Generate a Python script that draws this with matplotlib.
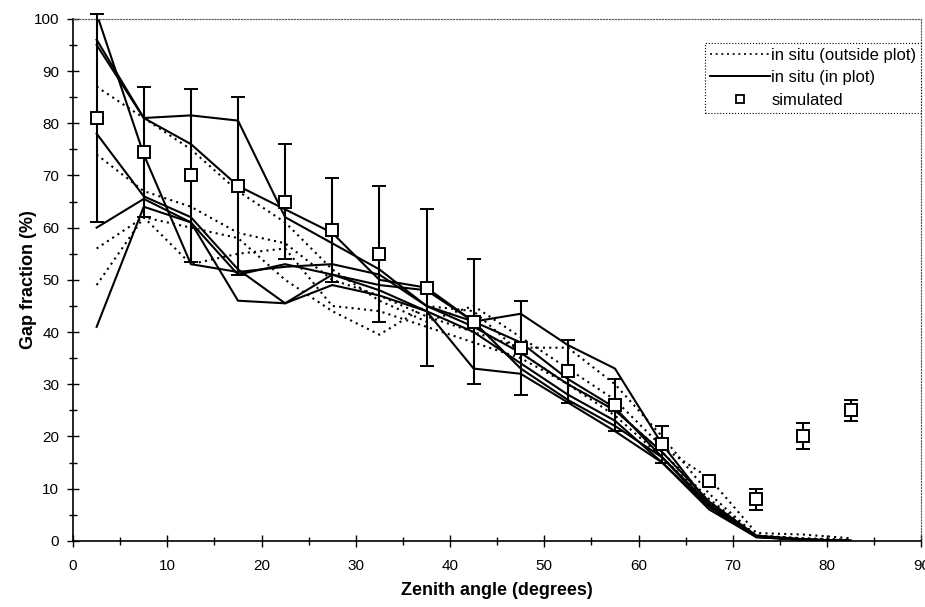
import numpy as np
import matplotlib.pyplot as plt
from matplotlib.ticker import MultipleLocator

plt.rcParams['font.family'] = ['Liberation Sans', 'DejaVu Sans']

# zenith angle class centres (degrees)
zenith = [2.5, 7.5, 12.5, 17.5, 22.5, 27.5, 32.5, 37.5, 42.5,
          47.5, 52.5, 57.5, 62.5, 67.5, 72.5, 77.5, 82.5]

# in situ measurements inside the plot (solid)
in_plot = [
    [101, 74, 53, 51.5, 52.5, 53, 51, 45, 41, 36, 30, 25, 17, 7.5, 1, 0.3, 0],
    [96, 81, 81.5, 80.5, 62, 57, 52, 45, 42, 43.5, 37.5, 33, 18.5, 7, 0.8, 0.3, 0],
    [95, 81, 76, 68, 63.5, 59, 50, 48.5, 42, 38, 31, 25.5, 16, 7, 0.8, 0.2, 0],
    [78, 66, 62, 52, 45.5, 51, 49, 48, 42, 33, 27, 22, 16, 6.5, 0.8, 0.2, 0],
    [60, 65.5, 61, 51, 53, 51, 48, 44, 40, 34, 28, 23, 15, 6.5, 0.7, 0.2, 0],
    [41, 64, 61, 46, 45.5, 49, 47, 44, 33, 32, 26.5, 21, 15, 6, 0.7, 0.2, 0],
]

# in situ measurements outside the plot (dotted)
outside_plot = [
    [87, 81, 75, 67, 61, 52, 46, 42, 45, 39, 33, 27, 18, 12, 1.5, 1.2, 0.5],
    [74, 67, 64, 59, 57, 50, 47, 43, 40, 37, 37, 30, 20, 9, 1, 0.5, 0.2],
    [56, 62, 53, 55, 56, 45, 44, 41, 38, 35, 30, 25, 17, 8, 1, 0.4, 0.1],
    [49, 62, 60, 58, 50, 44, 39.5, 45, 44, 36, 30, 24, 16, 7.5, 1, 0.4, 0.1],
]

# simulated gap fraction and its spread
simulated = [81, 74.5, 70, 68, 65, 59.5, 55, 48.5, 42, 37, 32.5, 26, 18.5, 11.5, 8, 20, 25]
sim_err = [20, 12.5, 16.5, 17, 11, 10, 13, 15, 12, 9, 6, 5, 3.5, 0.8, 2, 2.5, 2]

fig = plt.figure(figsize=(9.25, 6.07), dpi=100)
ax = fig.add_axes([0.079, 0.109, 0.917, 0.860])

for s in outside_plot:
    ax.plot(zenith, s, color='black', lw=1.5, ls=(0, (1.0, 2.0)))
for s in in_plot:
    ax.plot(zenith, s, color='black', lw=1.5)

ax.errorbar(zenith, simulated, yerr=sim_err, fmt='s', ms=8, mfc='white',
            mec='black', mew=1.4, ecolor='black', elinewidth=1.5,
            capsize=5, capthick=1.5, zorder=5, clip_on=False)

# legend proxies
h1, = ax.plot([], [], color='black', lw=1.2, ls=(0, (1.2, 2.2)))
h2, = ax.plot([], [], color='black', lw=1.4)
h3, = ax.plot([], [], 's', ms=6, mfc='white', mec='black', mew=1.3)
leg = ax.legend([h1, h2, h3],
                ['in situ (outside plot)', 'in situ (in plot)', 'simulated'],
                loc='upper right', bbox_to_anchor=(1.0, 0.954), borderaxespad=0,
                fontsize=12, fancybox=False, framealpha=1, borderpad=0.3,
                handlelength=3.6, handletextpad=0.1, labelspacing=0.45)
leg.get_frame().set_edgecolor('black')
leg.get_frame().set_linestyle(':')
leg.get_frame().set_linewidth(0.8)

ax.set_xlim(0, 90)
ax.set_ylim(0, 100)
ax.xaxis.set_major_locator(MultipleLocator(10))
ax.xaxis.set_minor_locator(MultipleLocator(5))
ax.yaxis.set_major_locator(MultipleLocator(10))
ax.yaxis.set_minor_locator(MultipleLocator(5))
ax.tick_params(which='major', direction='inout', length=8, width=1, labelsize=11, pad=6)
ax.tick_params(which='minor', direction='inout', length=6, width=1)
ax.tick_params(axis='x', pad=9)

ax.spines['left'].set_linewidth(1.2)
ax.spines['bottom'].set_linewidth(1.2)
for side in ('top', 'right'):
    ax.spines[side].set_linestyle(':')
    ax.spines[side].set_linewidth(0.8)
    ax.spines[side].set_color('#555555')

ax.set_xlabel('Zenith angle (degrees)', fontsize=13, fontweight='bold')
ax.set_ylabel('Gap fraction (%)', fontsize=13, fontweight='bold')
ax.xaxis.set_label_coords(0.5, -0.078)
ax.yaxis.set_label_coords(-0.042, 0.5)

fig.savefig('out.png', dpi=100)
